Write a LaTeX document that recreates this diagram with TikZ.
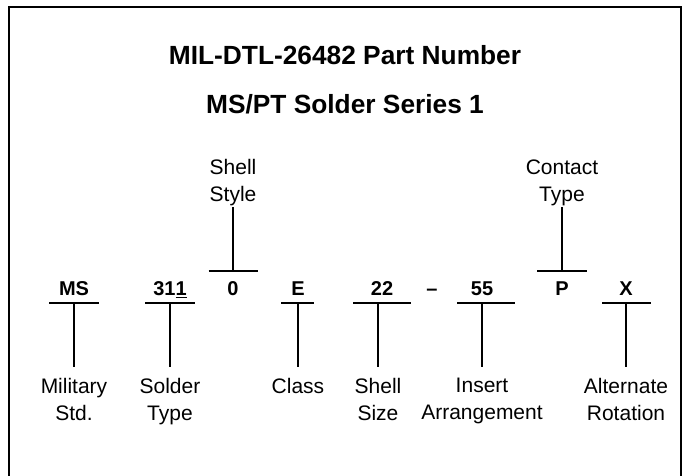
\documentclass[tikz,border=0pt]{standalone}
\usepackage{fontspec}
\setmainfont{Liberation Sans}
\begin{document}
\begin{tikzpicture}[x=1pt,y=-1pt,
  frame/.style={line width=2pt},
  conn/.style={line width=2pt},
  bar/.style={line width=2pt},
  titletext/.style={font=\fontsize{26.3}{30}\selectfont\bfseries, inner sep=0pt, anchor=base},
  code/.style={font=\fontsize{20}{24}\selectfont\bfseries, inner sep=0pt, anchor=base},
  lbl/.style={font=\fontsize{21}{27}\selectfont, align=center, inner sep=0pt},
  lowlbl/.style={lbl, anchor=north, outer ysep=11.5pt},
  uplbl/.style={lbl, anchor=south, outer ysep=1pt},
]
\useasboundingbox (0,0) rectangle (682,475);
\clip (0,0) rectangle (682,475);
\draw[frame] (9.3,500) -- (9.3,7) -- (681,7) -- (681,500);

% titles
\node[titletext] (t1) at (345,64.3) {MIL-DTL-26482 Part Number};
\node[titletext] (t2) at (345,113.3) {MS/PT Solder Series 1};

% codes
\node[code] (ms) at (74,295.7) {MS};
\node[code] (s311) at (170,295.7) {31$\underline{\hbox{1}}$};
\node[code] (zero) at (233,295.7) {0};
\node[code] (e) at (298,295.7) {E};
\node[code] (tt) at (382,295.7) {22};
\node[code] (dash) at (432,295.7) {–};
\node[code] (ff) at (482,295.7) {55};
\node[code] (p) at (562,295.7) {P};
\node[code] (x) at (626,295.7) {X};

% bar coordinates
\coordinate (msbar) at (74,303);
\coordinate (s311bar) at (170,303);
\coordinate (zerobar) at (233,271);
\coordinate (ebar) at (298,303);
\coordinate (ttbar) at (378,303);
\coordinate (ffbar) at (482,303);
\coordinate (pbar) at (562,271);
\coordinate (xbar) at (626,303);

\draw[bar] ([xshift=-25pt]msbar) -- ([xshift=25pt]msbar);
\draw[bar] ([xshift=-25pt]s311bar) -- ([xshift=25pt]s311bar);
\draw[bar] ([xshift=-24.5pt]zerobar) -- ([xshift=24.5pt]zerobar);
\draw[bar] ([xshift=-17pt]ebar) -- ([xshift=16pt]ebar);
\draw[bar] ([xshift=-25pt]ttbar) -- ([xshift=33pt]ttbar);
\draw[bar] ([xshift=-25pt]ffbar) -- ([xshift=33pt]ffbar);
\draw[bar] ([xshift=-25pt]pbar) -- ([xshift=25pt]pbar);
\draw[bar] ([xshift=-24pt]xbar) -- ([xshift=25pt]xbar);

% upper labels
\node[uplbl] (shellstyle) at (233,207) {Shell\\Style};
\node[uplbl] (contact) at (562,207) {Contact\\Type};
\draw[conn] (shellstyle.south) -- (zerobar);
\draw[conn] (contact.south) -- (pbar);

% lower labels
\node[lowlbl] (mil) at (74,367) {Military\\Std.};
\node[lowlbl] (solder) at (170,367) {Solder\\Type};
\node[lowlbl] (class) at (298,367) {Class};
\node[lowlbl] (size) at (378,367) {Shell\\Size};
\node[lowlbl] (insert) at (482,367) {Insert\\Arrangement};
\node[lowlbl] (alt) at (626,367) {Alternate\\Rotation};

\draw[conn] (msbar) -- (mil.north);
\draw[conn] (s311bar) -- (solder.north);
\draw[conn] (ebar) -- (class.north);
\draw[conn] (ttbar) -- (size.north);
\draw[conn] (ffbar) -- (insert.north);
\draw[conn] (xbar) -- (alt.north);
\end{tikzpicture}
\end{document}
